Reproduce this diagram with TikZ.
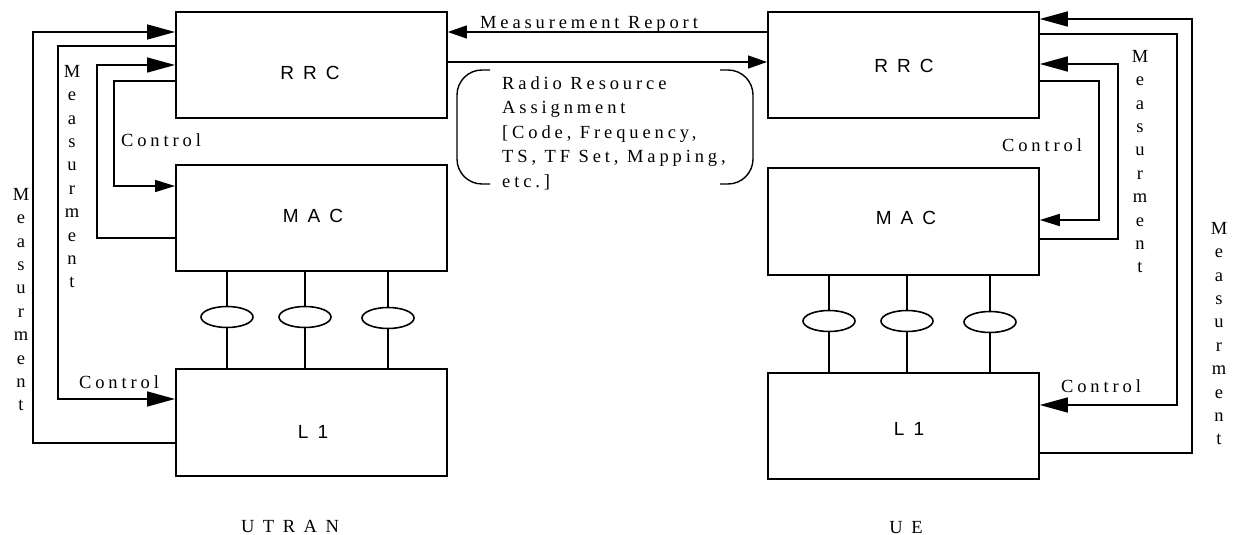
\documentclass[tikz,border=0pt]{standalone}
\usepackage{fontspec}
\setmainfont{Liberation Serif}
\newfontfamily\trackedserif[LetterSpace=21]{Liberation Serif}
\newfontfamily\trackedsans[LetterSpace=20]{Liberation Sans}
\usetikzlibrary{arrows.meta,shapes.geometric}

\begin{document}
\begin{tikzpicture}[x=1bp,y=-1bp,
  layer/.style={draw,line width=1.8bp,minimum width=271bp,inner sep=0,anchor=north west},
  chan/.style={draw,ellipse,line width=1.6bp,minimum width=52bp,minimum height=21bp,inner sep=0},
  wire/.style={line width=1.6bp},
  conn/.style={line width=1.6bp},
  msg/.style={line width=1.3bp},
  bigtip/.style={-{Triangle[length=28bp,width=15bp]}},
  smalltip/.style={-{Triangle[length=20bp,width=12bp]}},
  msgtip/.style={-{Triangle[length=19bp,width=13bp]}},
  bracket/.style={line width=1.4bp,rounded corners=25bp},
  lbl/.style={font=\trackedserif\fontsize{18.5bp}{20bp}\selectfont,inner sep=0,anchor=base},
  boxlbl/.style={font=\trackedsans\fontsize{19bp}{20bp}\selectfont,inner sep=0,anchor=base},
  vlbl/.style={font=\fontsize{18.5bp}{23.4bp}\selectfont,align=center,inner sep=0,anchor=north},
]
\useasboundingbox (0,0) rectangle (1242,535);

% ---------------- UTRAN side ----------------
\node[layer,minimum height=106bp] (rrcL) at (175,11) {};
\node[layer,minimum height=106bp] (macL) at (175,164) {};
\node[layer,minimum height=107bp] (l1L)  at (175,368) {};
\node[boxlbl] (rrcLt) at (310,80)  {R R C};
\node[boxlbl] (macLt) at (313,223) {M A C};
\node[boxlbl] (l1Lt)  at (313,438) {L 1};

\node[chan] (cL1) at (227,317) {};
\node[chan] (cL2) at (305,317) {};
\node[chan] (cL3) at (388,318) {};
\foreach \c in {cL1,cL2,cL3}{
  \draw[wire] (\c |- macL.south) -- (\c.north);
  \draw[wire] (\c.south) -- (\c |- l1L.north);
}

\draw[conn,bigtip]   (l1L.west |- 0,443) -| (33,32)  -- (rrcL.west |- 0,32);
\draw[conn,bigtip]   (rrcL.west |- 0,46) -| (58,399) -- (l1L.west |- 0,399);
\draw[conn,bigtip]   (macL.west |- 0,238) -| (97,65) -- (rrcL.west |- 0,65);
\draw[conn,smalltip] (rrcL.west |- 0,81) -| (114,186) -- (macL.west |- 0,186);

\node[lbl] (ctlL1) at (161,147) {Control};
\node[lbl] (ctlL2) at (119,388) {Control};
\node[vlbl] (meaL1) at (72,65)  {M\\e\\a\\s\\u\\r\\m\\e\\n\\t};
\node[vlbl] (meaL2) at (21,188) {M\\e\\a\\s\\u\\r\\m\\e\\n\\t};
\node[lbl] (utran) at (290,532) {U T R A N};

% ---------------- UE side ----------------
\node[layer,minimum height=106bp] (rrcR) at (767,11) {};
\node[layer,minimum height=107bp] (macR) at (767,167) {};
\node[layer,minimum height=106bp] (l1R)  at (767,372) {};
\node[boxlbl] (rrcRt) at (904,73)  {R R C};
\node[boxlbl] (macRt) at (906,225) {M A C};
\node[boxlbl] (l1Rt)  at (909,435) {L 1};

\node[chan] (cR1) at (829,321) {};
\node[chan] (cR2) at (907,321) {};
\node[chan] (cR3) at (990,322) {};
\foreach \c in {cR1,cR2,cR3}{
  \draw[wire] (\c |- macR.south) -- (\c.north);
  \draw[wire] (\c.south) -- (\c |- l1R.north);
}

\draw[conn,bigtip]   (l1R.east |- 0,453) -| (1192,19)  -- (rrcR.east |- 0,19);
\draw[conn,bigtip]   (rrcR.east |- 0,34) -| (1177,405) -- (l1R.east |- 0,405);
\draw[conn,bigtip]   (macR.east |- 0,239) -| (1118,64) -- (rrcR.east |- 0,64);
\draw[conn,smalltip] (rrcR.east |- 0,81) -| (1099,220) -- (macR.east |- 0,220);

\node[lbl] (ctlR1) at (1042,152) {Control};
\node[lbl] (ctlR2) at (1101,392) {Control};
\node[vlbl] (meaR1) at (1140,50)  {M\\e\\a\\s\\u\\r\\m\\e\\n\\t};
\node[vlbl] (meaR2) at (1219,222) {M\\e\\a\\s\\u\\r\\m\\e\\n\\t};
\node[lbl] (ue) at (906,533) {U E};

% ---------------- peer messages ----------------
\draw[msg,msgtip] (rrcR.west |- 0,32) -- (rrcL.east |- 0,32);
\draw[msg,msgtip] (rrcL.east |- 0,62) -- (rrcR.west |- 0,62);
\node[lbl] (mrep) at (589,29) {Measurement Report};

\node[font=\trackedserif\fontsize{18.5bp}{24.5bp}\selectfont,inner sep=0,
      align=left,anchor=north west] (rra) at (502,76)
  {Radio Resource\\Assignment\\{[}Code, Frequency,\\TS, TF Set, Mapping,\\etc.]};
\draw[bracket] (490,70) -- (457,70) -- (457,184) -- (490,184);
\draw[bracket] (720,70) -- (753,70) -- (753,184) -- (720,184);

\end{tikzpicture}
\end{document}
